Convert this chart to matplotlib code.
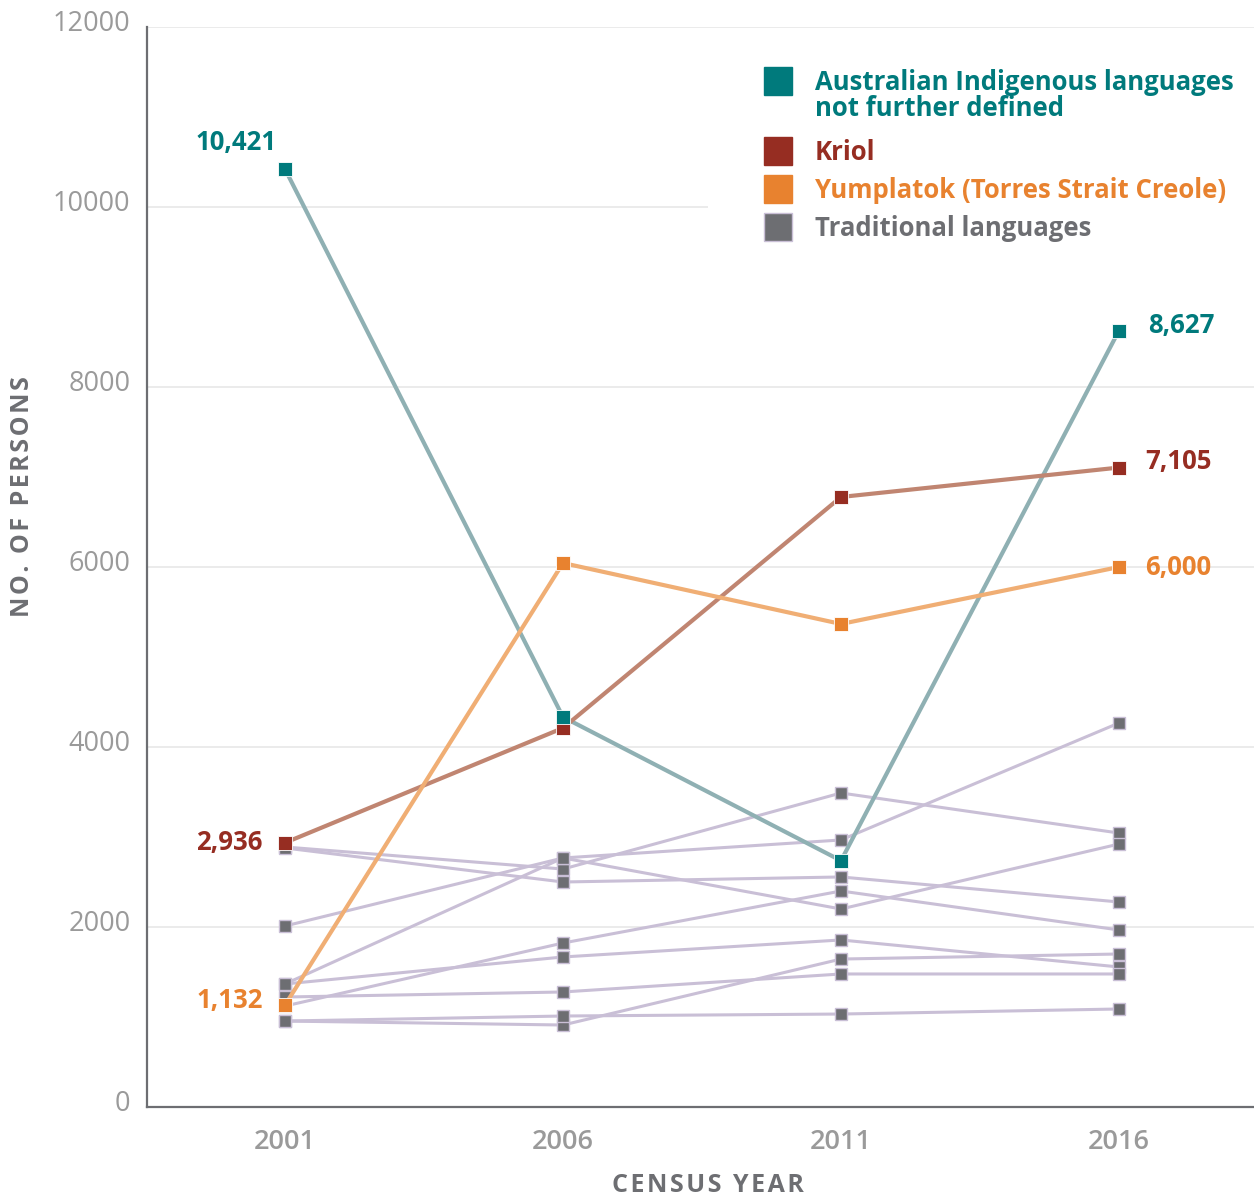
import matplotlib
matplotlib.use("Agg")
import matplotlib.pyplot as plt
import matplotlib.transforms as mtransforms
from matplotlib.patches import Rectangle

# ---------------- data ----------------
years = ["2001", "2006", "2011", "2016"]
ai_nfd = [10421, 4333, 2737, 8627]
kriol = [2936, 4211, 6778, 7105]
yumplatok = [1132, 6044, 5367, 6000]

trad_a = [2889, 2644, 3489, 3044]
trad_b = [2011, 2767, 2967, 4267]
trad_c = [2878, 2500, 2556, 2278]
trad_d = [1122, 1822, 2400, 1967]
trad_e = [1367, 2767, 2200, 2922]
trad_f = [1367, 1667, 1856, 1556]
trad_g = [955, 911, 1644, 1700]
trad_h = [1222, 1278, 1478, 1478]
trad_i = [955, 1011, 1033, 1089]
traditional = [trad_a, trad_b, trad_c, trad_d, trad_e, trad_f, trad_g, trad_h, trad_i]

yticks = [0, 2000, 4000, 6000, 8000, 10000, 12000]

legend_labels = ["Australian Indigenous languages", "not further defined",
                 "Kriol", "Yumplatok (Torres Strait Creole)", "Traditional languages"]

# ---------------- style ----------------
TEAL = "#007A7C"
TEAL_LINE = "#8FB0B3"
RED = "#962D22"
RED_LINE = "#C08571"
ORANGE = "#E8822F"
ORANGE_LINE = "#F0AE74"
GRAY = "#6D6E72"
LAV = "#C9BFD6"
TICK = "#9A9A9A"
FONT = ["Open Sans", "DejaVu Sans"]

plt.rcParams["font.family"] = FONT

W, H = 1254, 1200
fig = plt.figure(figsize=(W / 100, H / 100), dpi=100)
ax = fig.add_axes([147 / W, 93 / H, 1107 / W, 1080 / H])

xs = list(range(len(years)))

# traditional languages
for s in traditional:
    ax.plot(xs, s, color=LAV, lw=2.2, zorder=2, solid_capstyle="butt")
for s in traditional:
    ax.plot(xs, s, ls="none", marker="s", ms=8.8, mfc=GRAY, mec=LAV, mew=1.0, zorder=3)

# main series
main = [(ai_nfd, TEAL_LINE, TEAL), (kriol, RED_LINE, RED), (yumplatok, ORANGE_LINE, ORANGE)]
for vals, lc, mc in main:
    ax.plot(xs, vals, color=lc, lw=3.0, zorder=4)
for vals, lc, mc in reversed(main):
    ax.plot(xs, vals, ls="none", marker="s", ms=10, mfc=mc, mec="white", mew=0.6, zorder=5)

# axes styling
ax.set_xlim(-138 / 278, 3 + 135 / 278)
ax.set_ylim(0, 12000)
ax.set_yticks(yticks)
ax.set_yticklabels([str(v) for v in yticks])
ax.set_xticks(xs)
ax.set_xticklabels(years)
ax.tick_params(axis="y", length=0, pad=12, labelsize=19.5, labelcolor=TICK)
ax.tick_params(axis="x", length=0, pad=15, labelsize=19.5, labelcolor=TICK)
up = mtransforms.ScaledTranslation(0, 4.5 / 72, fig.dpi_scale_trans)
for tick in ax.yaxis.get_major_ticks():
    lab = tick.label1
    lab.set_fontweight("medium")
    lab.set_va("center_baseline")
    lab.set_transform(lab.get_transform() + up)
for lab in ax.get_xticklabels():
    lab.set_fontweight("semibold")

ax.grid(axis="y", color="#E6E6E6", lw=1.1, zorder=0)
ax.set_axisbelow(True)
for side in ["top", "right"]:
    ax.spines[side].set_visible(False)
for side in ["left", "bottom"]:
    ax.spines[side].set_color(GRAY)
    ax.spines[side].set_linewidth(1.6)

# axis titles (letter-spaced)
def spaced(s):
    return "\u200a".join(s)

fig.text(708 / W, 1 - 1186 / H, spaced("CENSUS YEAR"), ha="center", va="center",
         fontsize=18, fontweight="bold", color=GRAY)
fig.text(23 / W, 1 - 497 / H, spaced("NO. OF PERSONS"), ha="center", va="center", rotation=90,
         fontsize=18, fontweight="bold", color=GRAY)

# value labels
def fmt(v):
    return f"{v:,}"

ann_kw = dict(textcoords="offset points", fontsize=18.5, fontweight="bold", va="center", zorder=6)
ax.annotate(fmt(ai_nfd[0]), (xs[0], ai_nfd[0]), xytext=(-6, 19), ha="right", color=TEAL, **ann_kw)
ax.annotate(fmt(kriol[0]), (xs[0], kriol[0]), xytext=(-16, 0), ha="right", color=RED, **ann_kw)
ax.annotate(fmt(yumplatok[0]), (xs[0], yumplatok[0]), xytext=(-16, 3), ha="right", color=ORANGE, **ann_kw)
ax.annotate(fmt(ai_nfd[-1]), (xs[-1], ai_nfd[-1]), xytext=(21, 4), ha="left", color=TEAL, **ann_kw)
ax.annotate(fmt(kriol[-1]), (xs[-1], kriol[-1]), xytext=(19, 4), ha="left", color=RED, **ann_kw)
ax.annotate(fmt(yumplatok[-1]), (xs[-1], yumplatok[-1]), xytext=(19, 0), ha="left", color=ORANGE, **ann_kw)

# legend (manual, white box hiding gridline)
def ax_xy(px, py):
    return ((px - 147) / 1107, (1107 - py) / 1080)

bx0, by0 = ax_xy(708, 255)
bx1, by1 = ax_xy(1254, 50)
ax.add_patch(Rectangle((bx0, by0), bx1 - bx0, by1 - by0, transform=ax.transAxes,
                       facecolor="white", edgecolor="none", zorder=1))

leg_rows = [
    (82, TEAL, TEAL, legend_labels[0]),
    (152, RED, RED, legend_labels[2]),
    (190, ORANGE, ORANGE, legend_labels[3]),
    (228, GRAY, LAV, legend_labels[4]),
]
LEG_FS = 18.5
for py, c, ec, lab in leg_rows:
    mx, my = ax_xy(778, py - 1)
    ax.plot([mx], [my], marker="s", ms=19.5, mfc=c, mec=ec, mew=1.0, ls="none",
            transform=ax.transAxes, clip_on=False, zorder=6)
    tx, ty = ax_xy(815, py)
    ax.text(tx, ty, lab, transform=ax.transAxes, ha="left", va="center",
            fontsize=LEG_FS, fontweight="bold", color=c, zorder=6)
tx, ty = ax_xy(815, 109)
ax.text(tx, ty, legend_labels[1], transform=ax.transAxes, ha="left", va="center",
        fontsize=LEG_FS, fontweight="bold", color=TEAL, zorder=6)

fig.savefig("out.png", dpi=100)
